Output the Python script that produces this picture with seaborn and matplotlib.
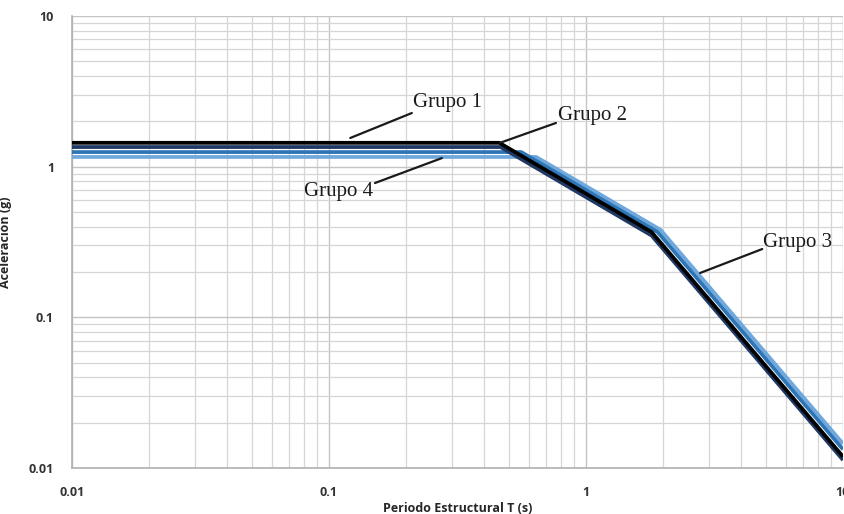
import matplotlib
matplotlib.use("Agg")
import matplotlib.pyplot as plt
import seaborn as sns
import pandas as pd
from matplotlib.ticker import LogLocator, FixedLocator, FixedFormatter, NullFormatter

# Spectral acceleration curves (plateau, 1/T branch, 1/T^2 branch)
periodo_g1 = [0.01, 0.46, 1.8, 10.0]
acel_g1 = [1.44, 1.44, 0.368, 0.0119]

periodo_g2 = [0.01, 0.465, 1.8, 10.0]
acel_g2 = [1.35, 1.35, 0.349, 0.0113]

periodo_g3 = [0.01, 0.56, 1.9, 10.0]
acel_g3 = [1.25, 1.25, 0.368, 0.0133]

periodo_g4 = [0.01, 0.64, 1.95, 10.0]
acel_g4 = [1.16, 1.16, 0.381, 0.0145]

grupos = ["Grupo 1", "Grupo 2", "Grupo 3", "Grupo 4"]
colores = ["#000000", "#1f3864", "#2e75b6", "#6fa8dc"]

tick_vals = [0.01, 0.1, 1, 10]
tick_text = ["0.01", "0.1", "1", "10"]

sns.set_style("white")
fig = plt.figure(figsize=(8.45, 5.14), dpi=100)
ax = fig.add_axes([72 / 845, 1 - 468 / 514, (843 - 72) / 845, (468 - 16) / 514])

series = [
    (periodo_g1, acel_g1),
    (periodo_g2, acel_g2),
    (periodo_g3, acel_g3),
    (periodo_g4, acel_g4),
]
for idx in [3, 2, 1, 0]:
    t, sa = series[idx]
    df = pd.DataFrame({"T": t, "Sa": sa})
    sns.lineplot(data=df, x="T", y="Sa", sort=False, ax=ax, color=colores[idx],
                 linewidth=2.7, solid_joinstyle="round", solid_capstyle="butt",
                 zorder=3 + (3 - idx) * 0.1)

ax.set_xscale("log")
ax.set_yscale("log")
ax.set_xlim(0.01, 10)
ax.set_ylim(0.01, 10)

ax.xaxis.set_major_locator(FixedLocator(tick_vals))
ax.xaxis.set_major_formatter(FixedFormatter(tick_text))
ax.yaxis.set_major_locator(FixedLocator(tick_vals))
ax.yaxis.set_major_formatter(FixedFormatter(tick_text))
ax.xaxis.set_minor_locator(LogLocator(base=10, subs=range(2, 10)))
ax.yaxis.set_minor_locator(LogLocator(base=10, subs=range(2, 10)))
ax.xaxis.set_minor_formatter(NullFormatter())
ax.yaxis.set_minor_formatter(NullFormatter())

ax.grid(True, which="major", color="#c4c4c4", linewidth=1.0, zorder=0)
ax.grid(True, which="minor", color="#d6d6d6", linewidth=0.9, zorder=0)
ax.set_axisbelow(True)

for s in ["top", "right"]:
    ax.spines[s].set_visible(False)
for s in ["left", "bottom"]:
    ax.spines[s].set_color("#b0b0b0")
    ax.spines[s].set_linewidth(1.2)

ax.tick_params(axis="x", which="major", length=4, width=1, color="#b0b0b0",
               labelsize=9, labelcolor="#333333", pad=9)
ax.tick_params(axis="y", which="major", length=7, width=1, color="#b0b0b0",
               labelsize=9, labelcolor="#333333", pad=6)
ax.tick_params(axis="both", which="minor", length=0)
for lab in ax.get_xticklabels() + ax.get_yticklabels():
    lab.set_fontfamily("Open Sans")
    lab.set_fontweight("bold")

ax.set_xlabel("Periodo Estructural T (s)", fontsize=9, fontweight="bold",
              fontfamily="Open Sans", color="#262626", labelpad=2)
ax.set_ylabel("Aceleración (g)", fontsize=9, fontweight="bold",
              fontfamily="Open Sans", color="#262626", labelpad=12)

# Group labels with leader lines to their curves
etiquetas = ["Grupo 1", "Grupo 2", "Grupo 4", "Grupo 3"]
texto_pos = [(0.212, 2.65), (0.778, 2.20), (0.148, 0.679), (4.88, 0.316)]
texto_ha = ["left", "left", "right", "left"]
linea_t = [(0.121, 0.210), (0.463, 0.764), (0.151, 0.275), (2.78, 4.85)]
linea_sa = [(1.55, 2.27), (1.44, 1.95), (0.779, 1.14), (0.197, 0.284)]

for texto, pos, ha, lt, ls in zip(etiquetas, texto_pos, texto_ha, linea_t, linea_sa):
    ax.plot(lt, ls, color="#1a1a1a", linewidth=1.6, zorder=6,
            solid_capstyle="round")
    ax.text(pos[0], pos[1], texto, fontsize=15, fontfamily="Liberation Serif",
            color="#1a1a1a", ha=ha, va="center", zorder=7)

fig.savefig("out.png", dpi=100)
